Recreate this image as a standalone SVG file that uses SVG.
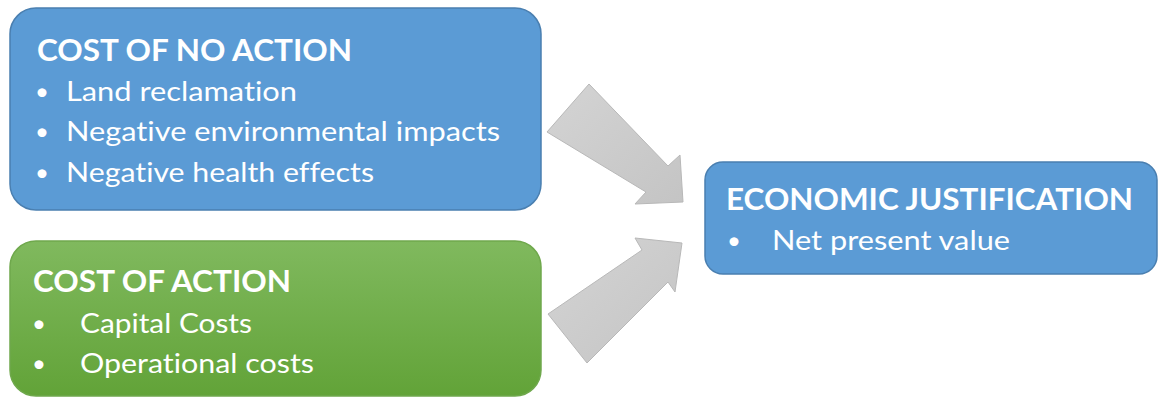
<svg xmlns="http://www.w3.org/2000/svg" width="1158" height="397" viewBox="0 0 1158 397">
<defs>
<linearGradient id="gGreen" x1="0" y1="0" x2="0" y2="1">
<stop offset="0" stop-color="#80B95E"/>
<stop offset="1" stop-color="#62A338"/>
</linearGradient>
<linearGradient id="gArrow" x1="0" y1="0" x2="1" y2="1">
<stop offset="0" stop-color="#D4D4D4"/>
<stop offset="1" stop-color="#C4C4C4"/>
</linearGradient>
</defs>
<style>
.blue{fill:#5B9BD5;stroke:#4A7FB0;stroke-width:1.5}
.green{fill:url(#gGreen);stroke:#6FA84C;stroke-width:1.5}
.arrow{fill:url(#gArrow);stroke:#B8B8B8;stroke-width:1}
.t{font-family:Lato,"Open Sans","Liberation Sans",sans-serif;fill:#FFFFFF;font-variant-ligatures:none;font-feature-settings:"liga" 0,"clig" 0}
.title{font-size:31px;font-weight:bold}
.item{font-size:27px}
.bul{font-size:24px}
</style>
<rect width="1158" height="397" fill="#FFFFFF"/>
<g id="connectors">
<polygon class="arrow" points="547,132 589,84 668,166 680,155 683,202 635,204 646,192"/>
<polygon class="arrow" points="548,314 587,363 668,282 675,292 682,243 635,238 642,250"/>
</g>
<g id="node-no-action">
<rect class="blue" x="10" y="8" width="531" height="202" rx="26"/>
<text class="t title" x="37" y="61" textLength="315" lengthAdjust="spacingAndGlyphs">COST OF NO ACTION</text>
<text class="t bul" x="35" y="100">•</text>
<text class="t item" x="66" y="101" textLength="231" lengthAdjust="spacingAndGlyphs">Land reclamation</text>
<text class="t bul" x="35" y="140">•</text>
<text class="t item" x="66" y="141" textLength="434" lengthAdjust="spacingAndGlyphs">Negative environmental impacts</text>
<text class="t bul" x="35" y="181">•</text>
<text class="t item" x="66" y="182" textLength="308" lengthAdjust="spacingAndGlyphs">Negative health effects</text>
</g>
<g id="node-action">
<rect class="green" x="10" y="241" width="531" height="155" rx="26"/>
<text class="t title" x="33" y="292" textLength="258" lengthAdjust="spacingAndGlyphs">COST OF ACTION</text>
<text class="t bul" x="32" y="332">•</text>
<text class="t item" x="80" y="333" textLength="172" lengthAdjust="spacingAndGlyphs">Capital Costs</text>
<text class="t bul" x="32" y="372">•</text>
<text class="t item" x="80" y="373" textLength="234" lengthAdjust="spacingAndGlyphs">Operational costs</text>
</g>
<g id="node-justification">
<rect class="blue" x="705" y="162" width="452" height="112" rx="18"/>
<text class="t title" x="726" y="210" textLength="407" lengthAdjust="spacingAndGlyphs">ECONOMIC JUSTIFICATION</text>
<text class="t bul" x="727" y="249">•</text>
<text class="t item" x="772" y="250" textLength="238" lengthAdjust="spacingAndGlyphs">Net present value</text>
</g>
</svg>
